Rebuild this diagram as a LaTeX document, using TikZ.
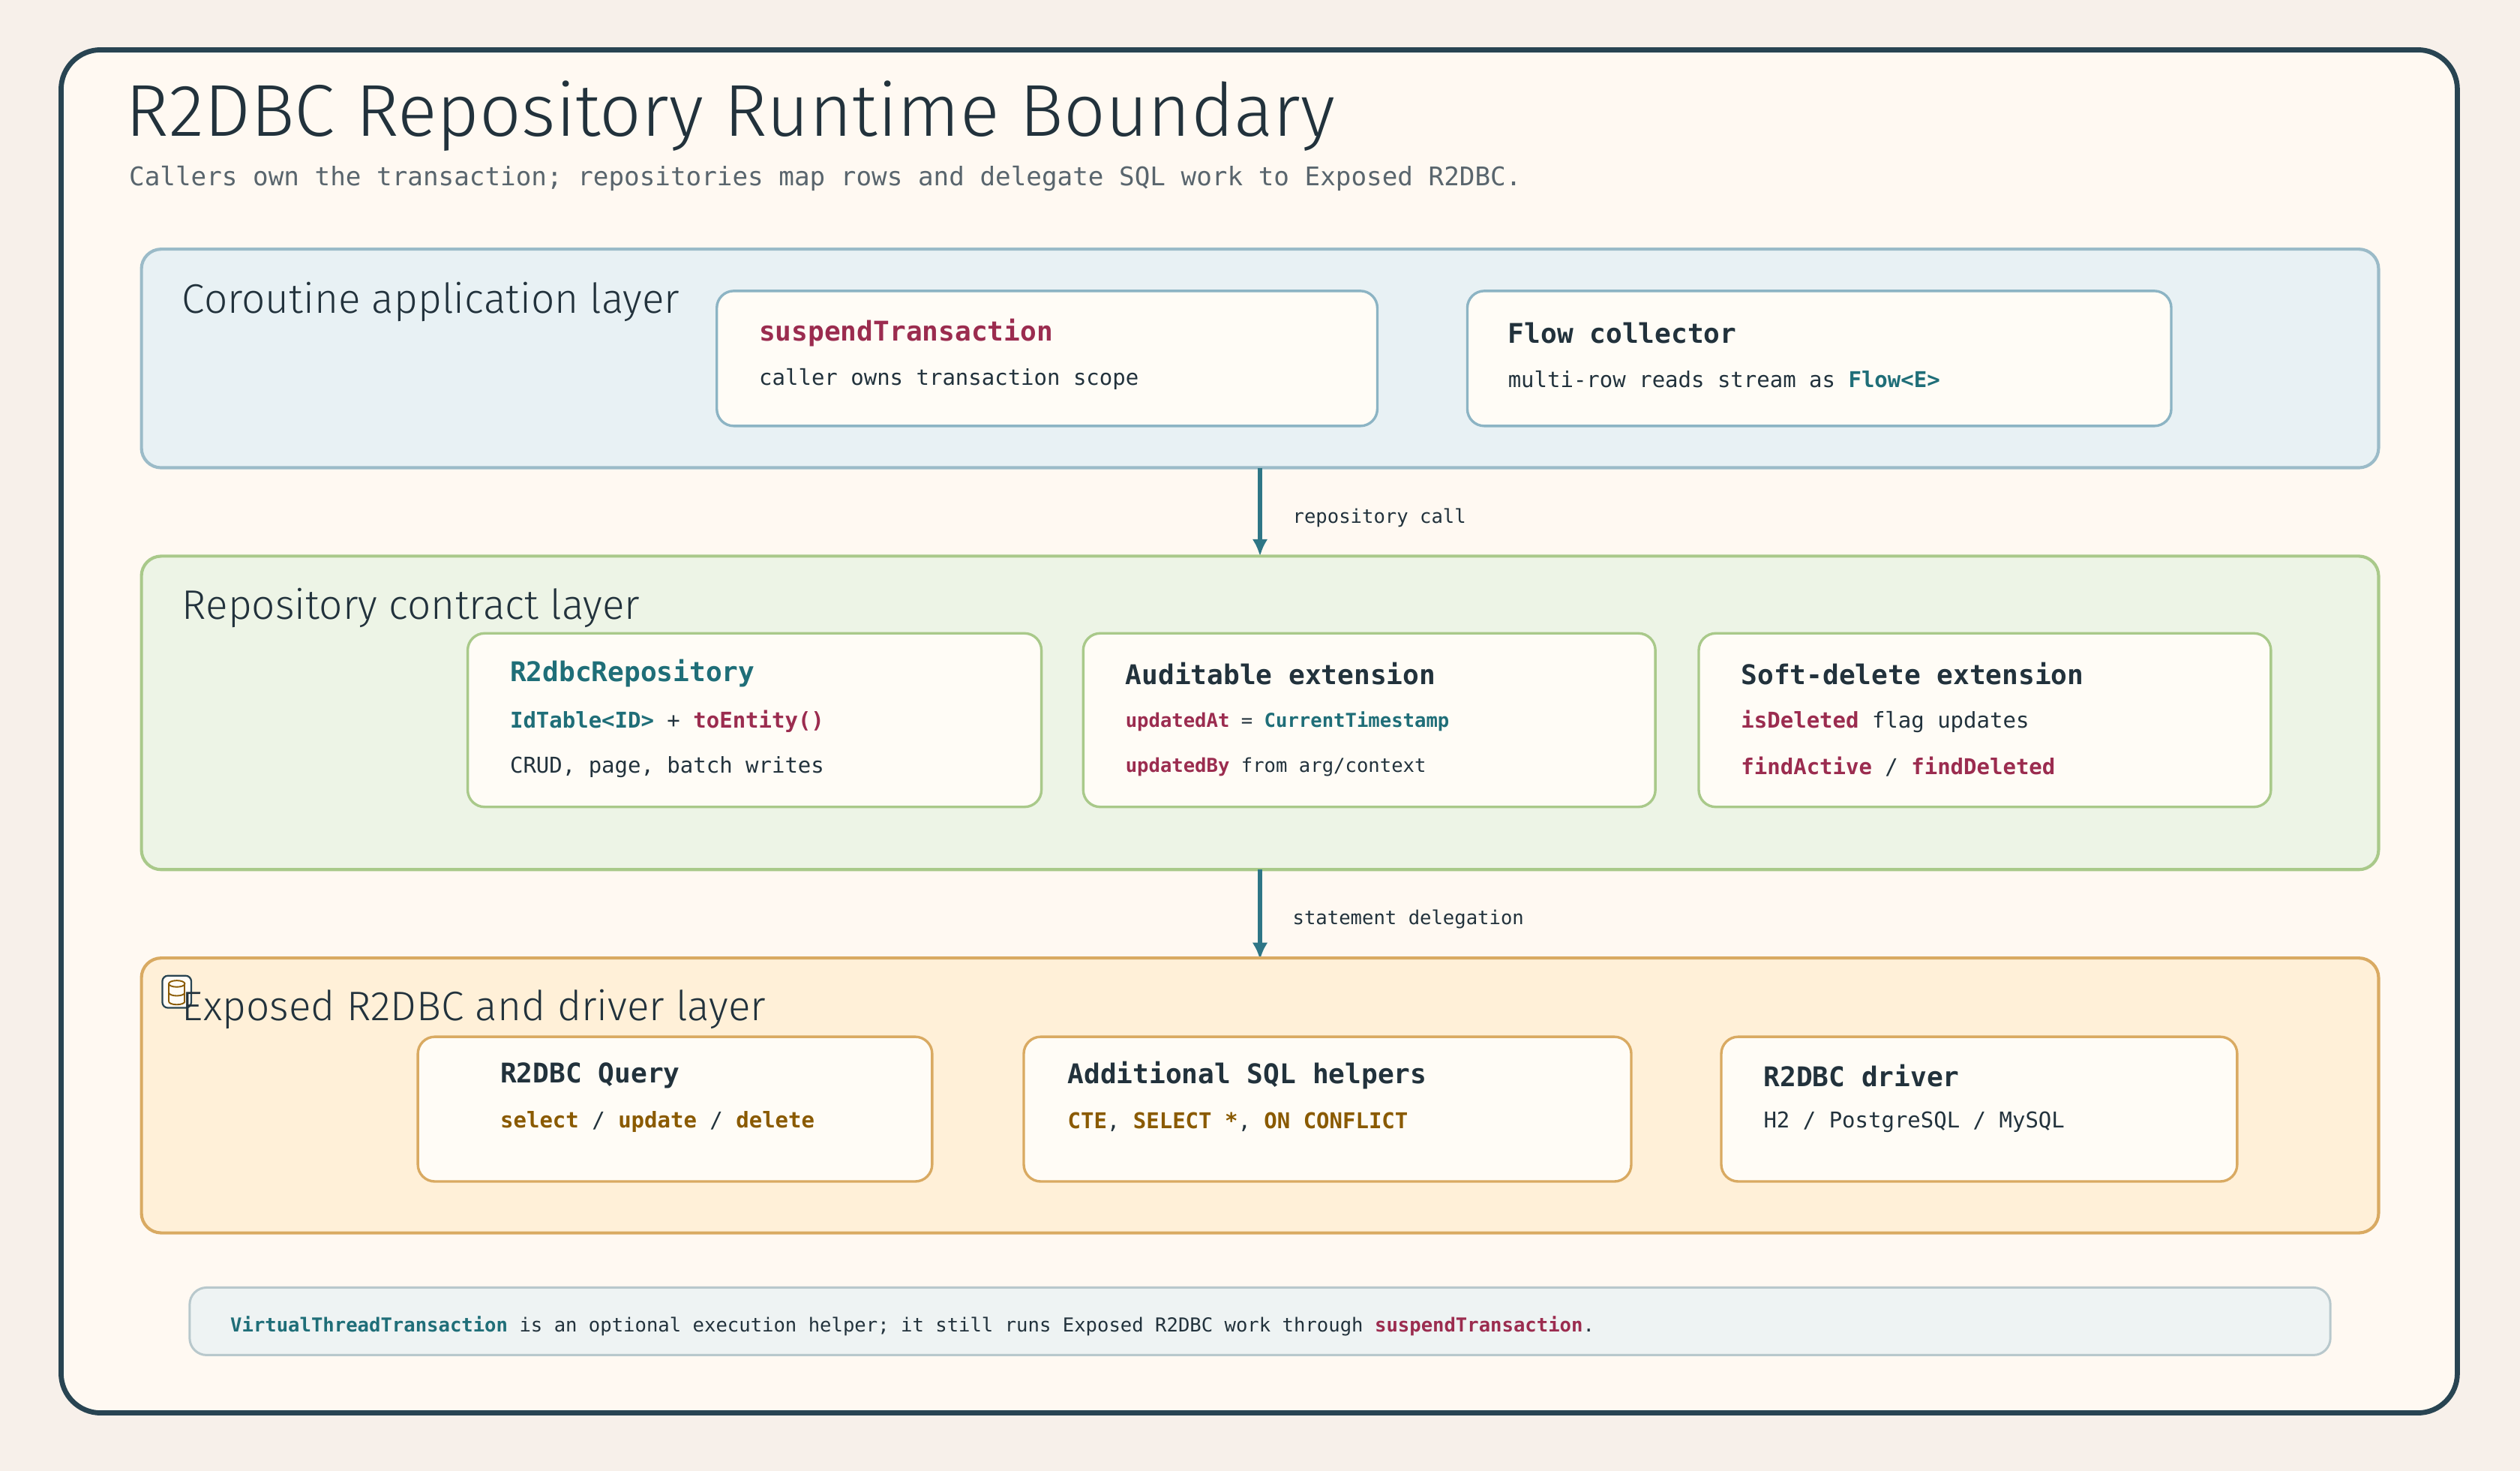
\documentclass[tikz,border=0pt]{standalone}
\usepackage{fontspec}
\usetikzlibrary{arrows.meta}
\setmainfont{Fira Sans}
\newfontfamily\mono{DejaVu Sans Mono}
\newfontfamily\hand{Fira Sans Light}
\definecolor{ink}{HTML}{22323C}
\definecolor{frame}{HTML}{284452}
\definecolor{crim}{HTML}{9B2C4F}
\definecolor{tealc}{HTML}{1F6E78}
\definecolor{brn}{HTML}{8A5A00}
\definecolor{arr}{HTML}{2E7686}
\definecolor{bgc}{HTML}{F7F0EA}
\definecolor{cardc}{HTML}{FFFCF6}
\begin{document}
\begin{tikzpicture}[x=0.02cm,y=-0.02cm,
  layer/.style={rounded corners=7pt,line width=1.1pt},
  card/.style={rounded corners=6pt,line width=0.9pt,fill=cardc},
  ttl/.style={anchor=west,font=\mono\bfseries\fontsize{9.6}{11}\selectfont,text=ink,inner sep=0},
  sub/.style={anchor=west,font=\mono\fontsize{7.7}{9}\selectfont,text=ink,inner sep=0},
  lay/.style={anchor=west,font=\hand\fontsize{14.6}{17}\selectfont,text=ink,inner sep=0},
  lbl/.style={anchor=west,font=\mono\fontsize{6.8}{8}\selectfont,text=ink,inner sep=0},
  conn/.style={-{Latex[length=6pt,width=5.5pt]},line width=1.8pt,draw=arr}]
\useasboundingbox (0,0) rectangle (1568,915);
\fill[bgc] (0,0) rectangle (1568,915);
\draw[line width=1.8pt,draw=frame,fill={rgb,255:red,255;green,249;blue,242},rounded corners=14pt] (38,31) rectangle (1529,879);
\node[anchor=west,inner sep=0,font=\hand\fontsize{26}{30}\selectfont,text=ink] (title) at (78,72) {R2DBC Repository Runtime Boundary};
\node[anchor=west,inner sep=0,font=\mono\fontsize{9.1}{11}\selectfont,text=ink!75] (subt) at (80,111) {Callers own the transaction; repositories map rows and delegate SQL work to Exposed R2DBC.};
% layer 1
\draw[layer,draw={rgb,255:red,155;green,187;blue,200},fill={rgb,255:red,232;green,241;blue,244}] (88,155) rectangle (1480,291);
\node[lay] at (113,188) {Coroutine application layer};
\path[card,draw={rgb,255:red,140;green,180;blue,196}] (446,181) rectangle (857,265);
\node[ttl,text=crim] at (472,207) {suspendTransaction};
\node[sub] at (472,236) {caller owns transaction scope};
\path[card,draw={rgb,255:red,140;green,180;blue,196}] (913,181) rectangle (1351,265);
\node[ttl] at (938,207) {Flow collector};
\node[sub] at (938,236) {multi-row reads stream as \textcolor{tealc}{\bfseries Flow<E>}};
\coordinate (a1) at (784,291); \coordinate (b1) at (784,346);
\draw[conn] (a1) -- (b1);
\node[lbl] at (804,322) {repository call};
% layer 2
\draw[layer,draw={rgb,255:red,169;green,201;blue,138},fill={rgb,255:red,237;green,244;blue,230}] (88,346) rectangle (1480,541);
\node[lay] at (113,378) {Repository contract layer};
\path[card,draw={rgb,255:red,169;green,201;blue,138}] (291,394) rectangle (648,502);
\node[ttl,text=tealc] at (317,419) {R2dbcRepository};
\node[sub,font=\mono\bfseries\fontsize{7.7}{9}\selectfont] at (317,449) {\textcolor{tealc}{IdTable<ID>} \textmd{+} \textcolor{crim}{toEntity()}};
\node[sub] at (317,477) {CRUD, page, batch writes};
\path[card,draw={rgb,255:red,169;green,201;blue,138}] (674,394) rectangle (1030,502);
\node[ttl] at (700,419) {Auditable extension};
\node[sub,font=\mono\fontsize{6.8}{8}\selectfont] at (700,449) {\textcolor{crim}{\bfseries updatedAt} = \textcolor{tealc}{\bfseries CurrentTimestamp}};
\node[sub,font=\mono\fontsize{6.8}{8}\selectfont] at (700,477) {\textcolor{crim}{\bfseries updatedBy} from arg/context};
\path[card,draw={rgb,255:red,169;green,201;blue,138}] (1057,394) rectangle (1413,502);
\node[ttl] at (1083,419) {Soft-delete extension};
\node[sub] at (1083,449) {\textcolor{crim}{\bfseries isDeleted} flag updates};
\node[sub] at (1083,477) {\textcolor{crim}{\bfseries findActive} / \textcolor{crim}{\bfseries findDeleted}};
\coordinate (a2) at (784,541); \coordinate (b2) at (784,597);
\draw[conn] (a2) -- (b2);
\node[lbl] at (804,572) {statement delegation};
% layer 3
\draw[layer,draw={rgb,255:red,217;green,170;blue,98},fill={rgb,255:red,255;green,240;blue,216}] (88,596) rectangle (1480,767);
\draw[rounded corners=2pt,draw=frame,line width=0.6pt,fill=cardc] (101,607) rectangle (119,627);
\begin{scope}[draw=brn,line width=0.5pt]
\draw (105,612) -- (105,623); \draw (115,612) -- (115,623);
\draw (110,612) ellipse [x radius=5,y radius=2];
\draw (105,617.5) arc[start angle=180,end angle=360,x radius=5,y radius=-2];
\draw (105,623) arc[start angle=180,end angle=360,x radius=5,y radius=-2];
\end{scope}
\node[lay] at (113,628) {Exposed R2DBC and driver layer};
\path[card,draw={rgb,255:red,217;green,170;blue,98}] (260,645) rectangle (580,735);
\node[ttl] at (311,669) {R2DBC Query};
\node[sub,font=\mono\bfseries\fontsize{7.7}{9}\selectfont] at (311,698) {\textcolor{brn}{select} \textmd{/} \textcolor{brn}{update} \textmd{/} \textcolor{brn}{delete}};
\path[card,draw={rgb,255:red,217;green,170;blue,98}] (637,645) rectangle (1015,735);
\node[ttl] at (664,669) {Additional SQL helpers};
\node[sub,font=\mono\bfseries\fontsize{7.7}{9}\selectfont] at (664,698) {\textcolor{brn}{CTE}\textmd{,} \textcolor{brn}{SELECT *}\textmd{,} \textcolor{brn}{ON CONFLICT}};
\path[card,draw={rgb,255:red,217;green,170;blue,98}] (1071,645) rectangle (1392,735);
\node[ttl] at (1097,669) {R2DBC driver};
\node[sub] at (1097,698) {H2 / PostgreSQL / MySQL};
% note
\draw[rounded corners=6pt,line width=0.8pt,draw={rgb,255:red,184;green,200;blue,204},fill={rgb,255:red,238;green,243;blue,243}] (118,801) rectangle (1450,843);
\node[lbl] at (143,825) {\textcolor{tealc}{\bfseries VirtualThreadTransaction} is an optional execution helper; it still runs Exposed R2DBC work through \textcolor{crim}{\bfseries suspendTransaction}.};
\end{tikzpicture}
\end{document}
